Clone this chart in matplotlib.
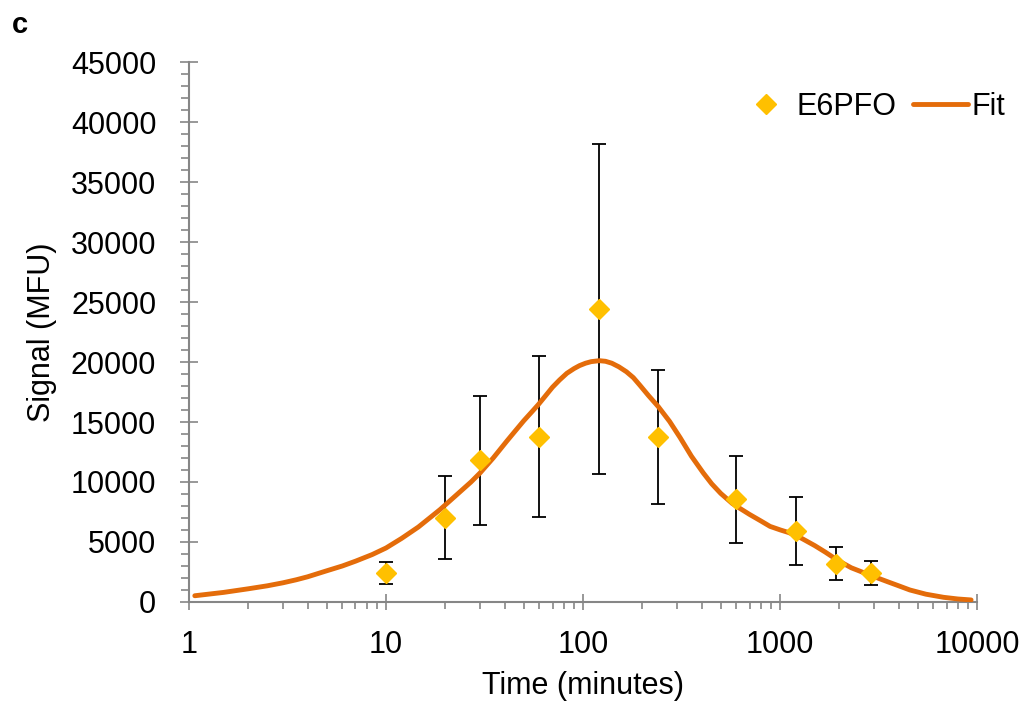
# -*- coding:utf-8 -*-
### Signal vs time plot, E6PFO with fit curve.
import matplotlib
matplotlib.use('Agg')
import matplotlib.pyplot as plt
from matplotlib.ticker import FixedLocator, MultipleLocator, LogLocator, NullFormatter

### data
time_min = [10, 20, 30, 60, 120, 240, 600, 1200, 1920, 2880]
signal = [2400, 7040, 11800, 13790, 24420, 13750, 8545, 5915, 3205, 2420]
signal_err = [900, 3460, 5380, 6710, 13750, 5580, 3620, 2830, 1370, 1000]

### fit curve, points
fit_t = [1.07, 1.5, 2, 2.5, 3, 3.5, 4, 5, 6, 7, 8.5, 10, 12, 14.6, 16.5, 18.8,
         21, 24, 27, 30, 35, 41, 45, 50, 55, 59.3, 65, 70, 76, 82.8, 90, 96,
         103, 110, 121, 130, 140, 152, 166, 180, 194, 215, 241, 275, 311, 355,
         408, 450, 500, 573, 640, 700, 800, 890, 1005, 1100, 1225, 1500, 1700,
         1950, 2300, 2850, 3500, 4000, 4563, 5500, 6760, 8000, 9330]
fit_v = [520, 800, 1100, 1350, 1600, 1850, 2100, 2600, 3000, 3400, 3950, 4500,
         5300, 6250, 6950, 7700, 8400, 9250, 10000, 10750, 12000, 13400, 14200,
         15100, 15850, 16450, 17250, 17900, 18500, 19060, 19450, 19700, 19900,
         20030, 20110, 20060, 19900, 19600, 19190, 18700, 18080, 17200, 16280,
         15050, 13700, 12150, 10750, 9850, 9050, 8200, 7700, 7300, 6750, 6300,
         6000, 5800, 5500, 4700, 4150, 3500, 2850, 2250, 1700, 1350, 1000, 650,
         390, 250, 170]

plt.rcParams['font.family'] = ['Liberation Sans', 'DejaVu Sans']
fs = 22

fig = plt.figure(figsize=(10.25, 7.13), dpi=100)
ax = fig.add_axes([0.1844, 0.1557, 0.9532 - 0.1844, 0.9130 - 0.1557])

orange = '#E46C0A'
gold = '#FFC000'
grey = '#868686'

ax.errorbar(time_min, signal, yerr=signal_err, fmt='none', ecolor='black',
            elinewidth=1.3, capsize=5, capthick=1.3, zorder=2)
ax.plot(fit_t, fit_v, color=orange, lw=3.5, solid_capstyle='round',
        solid_joinstyle='round', label='Fit', zorder=3)
ax.plot(time_min, signal, 'D', color=gold, ms=10.5, mec=gold, label='E6PFO', zorder=4)

ax.set_xscale('log')
ax.set_xlim(1, 10000)
ax.set_ylim(0, 45000)

ax.xaxis.set_major_locator(FixedLocator([1, 10, 100, 1000, 10000]))
ax.set_xticklabels(['1', '10', '100', '1000', '10000'])
ax.xaxis.set_minor_locator(LogLocator(base=10, subs=range(2, 10)))
ax.xaxis.set_minor_formatter(NullFormatter())
ax.yaxis.set_major_locator(MultipleLocator(5000))
ax.yaxis.set_minor_locator(MultipleLocator(1000))

for s in ['top', 'right']:
    ax.spines[s].set_visible(False)
for s in ['left', 'bottom']:
    ax.spines[s].set_color(grey)
    ax.spines[s].set_linewidth(1.5)

ax.tick_params(axis='y', which='major', direction='inout', length=13, width=1.2,
               color=grey, labelsize=fs, pad=17)
ax.tick_params(axis='y', which='minor', direction='out', length=6, width=1.2, color=grey)
ax.tick_params(axis='x', which='major', direction='inout', length=12, width=1.2,
               color=grey, labelsize=fs, pad=14)
ax.tick_params(axis='x', which='minor', direction='out', length=5, width=1.2, color=grey)

ax.set_xlabel('Time (minutes)', fontsize=fs, labelpad=8)
ax.set_ylabel('Signal (MFU)', fontsize=fs, labelpad=10)

handles, labels = ax.get_legend_handles_labels()
leg = fig.legend(handles[::-1], labels[::-1], loc='center right',
                 bbox_to_anchor=(0.9805, 0.850), ncol=2, frameon=False,
                 fontsize=fs, handlelength=1.8, handletextpad=0.1,
                 columnspacing=0.55, borderpad=0, borderaxespad=0)

fig.text(0.012, 0.985, 'c', fontsize=21, fontweight='bold', va='top', ha='left')

plt.savefig('out.png', dpi=100)
